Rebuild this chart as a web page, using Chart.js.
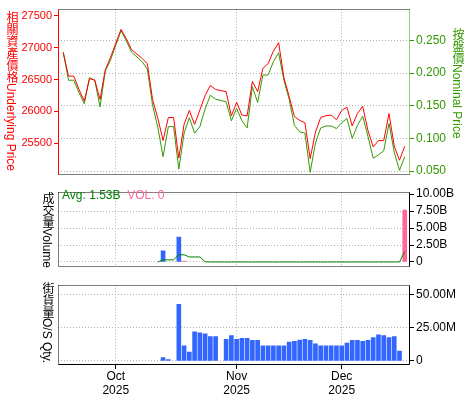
<!DOCTYPE html>
<html>
<head>
<meta charset="utf-8">
<script src="https://cdn.jsdelivr.net/npm/chart.js@4.4.1/dist/chart.umd.min.js"></script>
<style>
  html, body { margin: 0; padding: 0; background: #fff; }
  #wrap { position: relative; width: 475px; height: 400px; overflow: hidden; }
  canvas { position: absolute; left: 0; }
  .vtitle {
    position: absolute;
    writing-mode: vertical-rl;
    font-family: "Liberation Sans", "Noto Sans CJK TC", sans-serif;
    font-size: 12px;
    line-height: 12px;
    white-space: nowrap;
  }
  .legend { position: absolute; left: 62px; top: 188px; font: 12px "Liberation Sans", sans-serif; white-space: nowrap; }
</style>
</head>
<body>
<div id="wrap">
  <canvas id="priceChart" width="475" height="184" style="top:0"></canvas>
  <canvas id="volChart" width="475" height="93" style="top:183px"></canvas>
  <canvas id="qtyChart" width="475" height="124" style="top:276px"></canvas>
  <div class="vtitle" style="left:5px;top:11px;color:#ff0000">相關資產價格Underlying Price</div>
  <div class="vtitle" style="left:451px;top:28px;color:#339900">按盤價Nominal Price</div>
  <div class="vtitle" style="left:41px;top:192px;color:#000">成交量Volume</div>
  <div class="vtitle" style="left:41px;top:282px;color:#000">街貨量O/S Qty.</div>
  <div class="legend"><span style="color:#008000">Avg: 1.53B</span>&nbsp;&nbsp;<span style="color:#ff6699">VOL: 0</span></div>
</div>
<script>
// trading days (weekdays), Sep 16 -> Dec 18 2025
const days = [
  '09-16','09-17','09-18','09-19','09-22','09-23','09-24','09-25','09-26','09-29','09-30',
  '10-01','10-02','10-03','10-06','10-07','10-08','10-09','10-10','10-13','10-14','10-15','10-16','10-17',
  '10-20','10-21','10-22','10-23','10-24','10-27','10-28','10-29','10-30','10-31',
  '11-03','11-04','11-05','11-06','11-07','11-10','11-11','11-12','11-13','11-14',
  '11-17','11-18','11-19','11-20','11-21','11-24','11-25','11-26','11-27','11-28',
  '12-01','12-02','12-03','12-04','12-05','12-08','12-09','12-10','12-11','12-12',
  '12-15','12-16','12-17','12-18'
];
const monthStarts = ['10-01', '11-03', '12-01'];
const monthNames = ['Oct', 'Nov', 'Dec'];
const yearLabel = '2025';

// 相關資產價格 (left axis)
const underlying = [
  null, 26921, 26554, 26554, 26345, 26163, 26515, 26491, 26188, 26653, 26848,
  null, 27287, 27141, 26970, null, 26833, 26750, 26188, 25895, 25545, 25905, 25905, 25270,
  25797, 26016, 25797, 26022, 26250, 26408, 26345, null, 26310, 25930,
  26144, 25943, 25930, 26471, 26310, 26676, 26750, 26946, 27078, 26530,
  26236, 25920, 25860, 25822, 25260, 25675, 25905, 25934, 25943, 25870,
  26016, 26066, 25773, 25968, 26081, 25700, 25445, 25543, 25543, 25968,
  25455, 25235, 25455, null
];
// 按盤價 (right axis)
const nominal = [
  null, 0.232, 0.189, 0.189, 0.170, 0.153, 0.193, 0.189, 0.148, 0.203, 0.220,
  null, 0.265, 0.249, 0.232, null, 0.2175, 0.206, 0.151, 0.117, 0.072, 0.118, 0.118, 0.053,
  0.108, 0.1315, 0.108, 0.118, 0.145, 0.166, 0.160, null, 0.156, 0.127,
  0.146, 0.127, 0.116, 0.179, 0.155, 0.197, 0.197, 0.2175, 0.231, 0.189,
  0.160, 0.120, 0.110, 0.108, 0.048, 0.093, 0.116, 0.119, 0.119, 0.115,
  0.124, 0.1305, 0.100, 0.120, 0.134, 0.103, 0.0695, 0.075, 0.081, 0.123,
  0.079, 0.051, 0.072, null
];
// 成交量 (billions)
const volBlue = [
  null, null, null, null, null, null, null, null, null, null, null,
  null, null, null, null, null, null, null, null, null, 1.66, null, null, 3.66,
  null, null, null, null, null, null, null, null, null, null,
  null, null, null, null, null, null, null, null, null, null,
  null, null, null, null, null, null, null, null, null, null,
  null, null, null, null, null, null, null, null, null, null,
  null, null, null, null
];
const volPink = [
  null, null, null, null, null, null, null, null, null, null, null,
  null, null, null, null, null, null, null, null, null, null, null, null, null,
  0.15, null, null, null, null, null, null, null, null, null,
  null, null, null, null, null, null, null, null, null, null,
  null, null, null, null, null, null, null, null, null, null,
  null, null, null, null, null, null, null, null, null, null,
  null, null, 7.65, null
];
const volAvg = [
  null, null, null, null, null, null, null, null, null, null, null,
  null, null, null, null, null, null, null, null, 0, 0.32, 0.32, 0.32, 1.06,
  1.06, 0.74, 0.74, 0.74, 0.03, 0, 0, null, 0, 0,
  0, 0, 0, 0, 0, 0, 0, 0, 0, 0,
  0, 0, 0, 0, 0, 0, 0, 0, 0, 0,
  0, 0, 0, 0, 0, 0, 0, 0, 0, 0,
  0, 0, 1.53, null
];
// 街貨量 (millions)
const osQty = [
  null, null, null, null, null, null, null, null, null, null, null,
  null, null, null, null, null, null, null, null, null, 2.4, 1.0, null, 42.5,
  11.4, 6.6, 21.8, 21.1, 20.4, 18.3, 18.3, null, 16.2, 19.0,
  16.2, 16.9, 16.9, 15.5, 15.5, 11.4, 11.4, 11.4, 11.4, 11.4,
  14.2, 14.8, 15.7, 16.2, 15.5, 12.8, 11.4, 11.4, 11.4, 11.4,
  11.4, 13.5, 15.5, 15.5, 14.8, 15.5, 17.6, 19.7, 19.0, 17.6,
  18.3, 7.3, null, null
];

const priceTicks = [25500, 26000, 26500, 27000, 27500];
const nominalTicks = [0.05, 0.10, 0.15, 0.20, 0.25];
const volTicks = [0, 2.5, 5, 7.5, 10];
const qtyTicks = [0, 25, 50];

const GRID = '#b4b4b4';
const RED = '#ff0000';
const GREEN = '#339900';

Chart.defaults.font.family = '"Liberation Sans", Arial, sans-serif';
Chart.defaults.font.size = 12;

// panel borders: solid or dotted per side
const framePlugin = {
  id: 'frame',
  afterDraw(chart, args, opts) {
    const { ctx, chartArea: a } = chart;
    const l = Math.floor(a.left) + 0.5, r = Math.ceil(a.right) - 0.5;
    const t = Math.floor(a.top) + 0.5, b = Math.ceil(a.bottom) - 0.5;
    const lines = { top: [l, t, r, t], bottom: [l, b, r, b], left: [l, t, l, b], right: [r, t, r, b] };
    for (const side in lines) {
      const s = opts[side];
      if (!s) continue;
      const [x1, y1, x2, y2] = lines[side];
      ctx.save();
      ctx.strokeStyle = s.color;
      ctx.lineWidth = 1;
      ctx.setLineDash(s.dash || []);
      ctx.beginPath();
      ctx.moveTo(x1, y1);
      ctx.lineTo(x2, y2);
      ctx.stroke();
      ctx.restore();
    }
  }
};
const dotted = c => ({ color: c, dash: [1, 1] });
const solid = c => ({ color: c });

function xAxis(showLabels) {
  return {
    type: 'category',
    offset: false,
    afterBuildTicks: s => { s.ticks = s.ticks.filter(t => monthStarts.includes(days[t.value])); },
    afterFit: s => { s.height = showLabels ? 35 : 0; },
    grid: { offset: false, color: GRID, drawTicks: showLabels, tickLength: 4, tickColor: '#000', tickBorderDash: [] },
    border: { display: false, dash: [1, 2] },
    ticks: {
      display: showLabels,
      autoSkip: false,
      maxRotation: 0,
      padding: 1,
      color: '#000',
      font: { size: 12, lineHeight: 1.15 },
      callback: v => [monthNames[monthStarts.indexOf(days[v])], yearLabel]
    }
  };
}

function yAxis(pos, min, max, ticks, width, color, fmt, onArea, hideVal, fontSize) {
  return {
    type: 'linear',
    position: pos,
    min: min,
    max: max,
    afterBuildTicks: s => { s.ticks = ticks.map(v => ({ value: v })); },
    afterFit: s => { s.width = width; },
    grid: {
      drawOnChartArea: onArea,
      color: c => (hideVal !== undefined && c.tick && c.tick.value === hideVal) ? 'rgba(0,0,0,0)' : GRID,
      tickLength: 4,
      tickColor: color,
      tickBorderDash: []
    },
    border: { display: false, dash: [1, 2] },
    ticks: { color: color, padding: 2, font: { size: fontSize || 12 }, callback: fmt }
  };
}

new Chart(document.getElementById('priceChart'), {
  type: 'line',
  data: {
    labels: days,
    datasets: [
      { label: '相關資產價格', data: underlying, yAxisID: 'yL', borderColor: RED, borderWidth: 1, pointRadius: 0, spanGaps: true, tension: 0 },
      { label: '按盤價', data: nominal, yAxisID: 'yR', borderColor: GREEN, borderWidth: 1, pointRadius: 0, spanGaps: true, tension: 0 }
    ]
  },
  options: {
    responsive: false,
    animation: false,
    devicePixelRatio: 1,
    layout: { padding: { top: 4, bottom: 3, left: 0, right: 0 } },
    scales: {
      x: xAxis(false),
      yL: yAxis('left', 25007, 27603, priceTicks, 58, RED, v => String(v), false, undefined, 11),
      yR: yAxis('right', 0.0443, 0.2977, nominalTicks, 65, GREEN, v => v.toFixed(3), true)
    },
    plugins: {
      legend: { display: false },
      tooltip: { enabled: false },
      frame: { top: dotted('#000'), bottom: dotted('#000'), left: solid(RED), right: dotted(GREEN) }
    }
  },
  plugins: [framePlugin]
});

new Chart(document.getElementById('volChart'), {
  type: 'bar',
  data: {
    labels: days,
    datasets: [
      { type: 'line', label: 'Avg', data: volAvg, borderColor: '#008000', borderWidth: 1, pointRadius: 0, spanGaps: true, tension: 0 },
      { label: 'VOL', data: volBlue, backgroundColor: '#3366ff', barThickness: 4, grouped: false },
      { label: 'VOL', data: volPink, backgroundColor: '#ff6699', barThickness: 4, grouped: false }
    ]
  },
  options: {
    responsive: false,
    animation: false,
    devicePixelRatio: 1,
    layout: { padding: { top: 2, bottom: 3, left: 58, right: 0 } },
    scales: {
      x: xAxis(false),
      y: yAxis('right', -0.71, 10.29, volTicks, 65, '#000', v => v === 0 ? '0' : v.toFixed(2) + 'B', true, 10)
    },
    plugins: {
      legend: { display: false },
      tooltip: { enabled: false },
      frame: { top: dotted('#000'), bottom: dotted('#000'), left: dotted('#000'), right: solid('#000') }
    }
  },
  plugins: [framePlugin]
});

new Chart(document.getElementById('qtyChart'), {
  type: 'bar',
  data: {
    labels: days,
    datasets: [
      { label: '街貨量', data: osQty, backgroundColor: '#3366ff', barThickness: 4 }
    ]
  },
  options: {
    responsive: false,
    animation: false,
    devicePixelRatio: 1,
    layout: { padding: { top: 2, bottom: 0, left: 58, right: 0 } },
    scales: {
      x: xAxis(true),
      y: yAxis('right', -3.1, 57.0, qtyTicks, 65, '#000', v => v === 0 ? '0' : v.toFixed(2) + 'M', true)
    },
    plugins: {
      legend: { display: false },
      tooltip: { enabled: false },
      frame: { top: dotted('#000'), left: dotted('#000'), right: solid('#000'), bottom: solid('#000') }
    }
  },
  plugins: [framePlugin]
});
</script>
</body>
</html>
